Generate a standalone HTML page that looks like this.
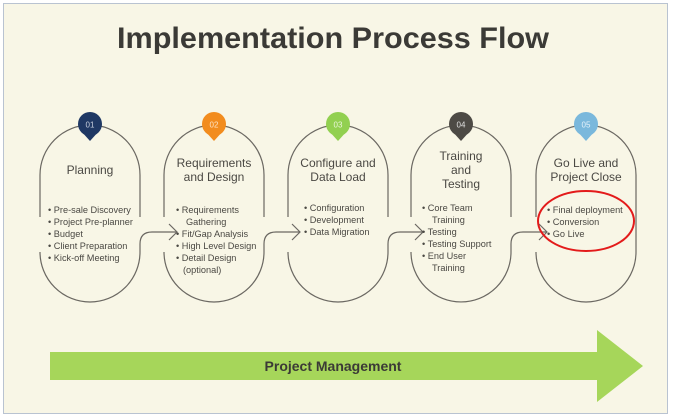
<!DOCTYPE html>
<html><head><meta charset="utf-8"><style>
html,body{margin:0;padding:0;background:#fff;}
svg{display:block;}
text{font-family:"Liberation Sans",sans-serif;}
</style></head><body>
<svg width="674" height="417" viewBox="0 0 674 417" xmlns="http://www.w3.org/2000/svg">
<rect x="0" y="0" width="674" height="417" fill="#fff"/>
<rect x="3.5" y="3.5" width="664" height="410" fill="#f8f6e6" stroke="#b9c3d1" stroke-width="1"/>
<text x="333" y="48" text-anchor="middle" font-size="30" font-weight="bold" fill="#3b3a36" textLength="432" lengthAdjust="spacingAndGlyphs">Implementation Process Flow</text>

<g fill="none" stroke="#6b6862" stroke-width="1.2">
  <path d="M40,217 L40,175 A50,50 0 0 1 140,175 L140,217"/>
  <path d="M40,252 L40,252 A50,50 0 0 0 140,252 L140,244 Q140,232 152,232 L177,232"/>
  <path d="M169,224 L177,232 L169,240"/>
  <path d="M164,217 L164,175 A50,50 0 0 1 264,175 L264,217"/>
  <path d="M164,252 A50,50 0 0 0 264,252 L264,244 Q264,232 276,232 L300,232"/>
  <path d="M292,224 L300,232 L292,240"/>
  <path d="M288,217 L288,175 A50,50 0 0 1 388,175 L388,217"/>
  <path d="M288,252 A50,50 0 0 0 388,252 L388,244 Q388,232 400,232 L423,232"/>
  <path d="M415,224 L423,232 L415,240"/>
  <path d="M411,217 L411,175 A50,50 0 0 1 511,175 L511,217"/>
  <path d="M411,252 A50,50 0 0 0 511,252 L511,244 Q511,232 523,232 L547,232"/>
  <path d="M539,224 L547,232 L539,240"/>
  <path d="M536,217 L536,175 A50,50 0 0 1 636,175 L636,252 A50,50 0 0 1 536,252"/>
</g>

<g>
  <path d="M81,131 L90,141 L99,131 Z" fill="#1f3864"/><circle cx="90" cy="124" r="12" fill="#1f3864"/>
  <text x="90" y="127.5" text-anchor="middle" font-size="8" fill="#c9d0de">01</text>
  <path d="M205,131 L214,141 L223,131 Z" fill="#f28c1e"/><circle cx="214" cy="124" r="12" fill="#f28c1e"/>
  <text x="214" y="127.5" text-anchor="middle" font-size="8" fill="#fde3c4">02</text>
  <path d="M329,131 L338,141 L347,131 Z" fill="#92d050"/><circle cx="338" cy="124" r="12" fill="#92d050"/>
  <text x="338" y="127.5" text-anchor="middle" font-size="8" fill="#eaf6d9">03</text>
  <path d="M452,131 L461,141 L470,131 Z" fill="#4d4a45"/><circle cx="461" cy="124" r="12" fill="#4d4a45"/>
  <text x="461" y="127.5" text-anchor="middle" font-size="8" fill="#e0e0e0">04</text>
  <path d="M577,131 L586,141 L595,131 Z" fill="#7ab8dc"/><circle cx="586" cy="124" r="12" fill="#7ab8dc"/>
  <text x="586" y="127.5" text-anchor="middle" font-size="8" fill="#e6f2fa">05</text>
</g>

<g fill="#4a4843" font-size="12" text-anchor="middle">
  <text x="90" y="174">Planning</text>
  <text x="214" y="167">Requirements</text><text x="214" y="181">and Design</text>
  <text x="338" y="167">Configure and</text><text x="338" y="181">Data Load</text>
  <text x="461" y="160">Training</text><text x="461" y="174">and</text><text x="461" y="188">Testing</text>
  <text x="586" y="167">Go Live and</text><text x="586" y="181">Project Close</text>
</g>

<g fill="#4a4843" font-size="9.2">
  <text x="48" y="213">•  Pre-sale Discovery</text>
  <text x="48" y="225">•  Project Pre-planner</text>
  <text x="48" y="237">•  Budget</text>
  <text x="48" y="249">•  Client Preparation</text>
  <text x="48" y="261">•  Kick-off Meeting</text>

  <text x="176" y="213">•  Requirements</text>
  <text x="186" y="225">Gathering</text>
  <text x="176" y="237">•  Fit/Gap Analysis</text>
  <text x="176" y="249">•  High Level Design</text>
  <text x="176" y="261">•  Detail Design</text>
  <text x="183" y="273">(optional)</text>

  <text x="304" y="211">•  Configuration</text>
  <text x="304" y="223">•  Development</text>
  <text x="304" y="235">•  Data Migration</text>

  <text x="422" y="211">•  Core Team</text>
  <text x="432" y="223">Training</text>
  <text x="422" y="235">•  Testing</text>
  <text x="422" y="247">•  Testing Support</text>
  <text x="422" y="259">•  End User</text>
  <text x="432" y="271">Training</text>

  <text x="547" y="213">•  Final deployment</text>
  <text x="547" y="225">•  Conversion</text>
  <text x="547" y="237">•  Go Live</text>
</g>

<ellipse cx="586" cy="221" rx="48" ry="30" fill="none" stroke="#e31b1b" stroke-width="2"/>

<path d="M50,352 L597,352 L597,330 L643,366 L597,402 L597,380 L50,380 Z" fill="#a6d65a"/>
<text x="333" y="371" text-anchor="middle" font-size="14" font-weight="bold" fill="#3b3a36">Project Management</text>
</svg>
</body></html>
